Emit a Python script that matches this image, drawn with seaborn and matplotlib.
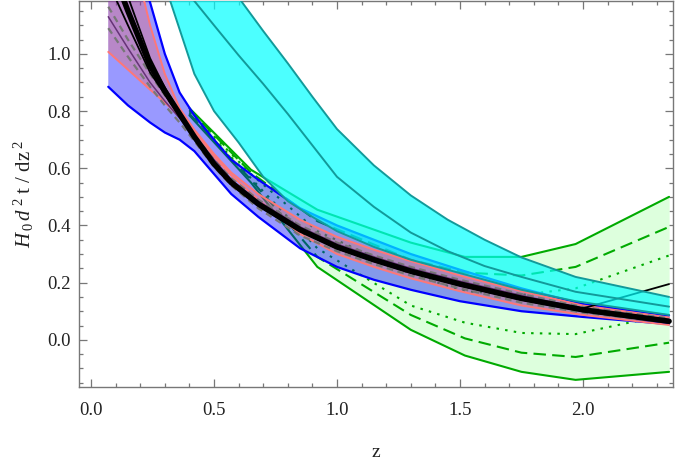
import numpy as np
import matplotlib
matplotlib.use("Agg")
import matplotlib.pyplot as plt
from matplotlib.ticker import MultipleLocator, FormatStrFormatter
import seaborn as sns

# ---------------- data ----------------
# blue / purple bands, black curves, grey dashed curves (common z grid)
z_b = [0.07, 0.15, 0.24, 0.30, 0.36, 0.42, 0.50, 0.57, 0.68, 0.85, 1.00, 1.15, 1.30, 1.50, 1.75, 2.00, 2.35]
blue_hi = [1.75, 1.45, 1.18, 1.00, 0.865, 0.785, 0.70, 0.63, 0.56, 0.46, 0.40, 0.35, 0.30, 0.245, 0.18, 0.125, 0.085]
blue_lo = [0.885, 0.82, 0.76, 0.725, 0.70, 0.66, 0.58, 0.51, 0.43, 0.32, 0.255, 0.21, 0.175, 0.135, 0.10, 0.08, 0.055]
pur_hi = [1.75, 1.42, 1.10, 0.93, 0.81, 0.735, 0.65, 0.585, 0.51, 0.42, 0.36, 0.315, 0.275, 0.225, 0.17, 0.12, 0.078]
pur_lo = [1.007, 0.945, 0.875, 0.83, 0.78, 0.73, 0.64, 0.575, 0.49, 0.37, 0.30, 0.255, 0.215, 0.17, 0.12, 0.087, 0.052]
black_mid = [1.33, 1.15, 0.96, 0.87, 0.79, 0.71, 0.615, 0.55, 0.475, 0.385, 0.325, 0.28, 0.24, 0.195, 0.145, 0.105, 0.065]
black_hi = [1.41, 1.20, 0.985, 0.882, 0.796, 0.715, 0.62, 0.555, 0.48, 0.39, 0.33, 0.285, 0.245, 0.20, 0.15, 0.11, 0.195]
black_lo = [1.25, 1.10, 0.935, 0.858, 0.784, 0.706, 0.61, 0.545, 0.47, 0.38, 0.32, 0.275, 0.235, 0.19, 0.14, 0.10, 0.06]
grey_1 = [1.165, 1.05, 0.93, 0.855, 0.785, 0.715, 0.63, 0.565, 0.49, 0.40, 0.34, 0.295, 0.255, 0.21, 0.16, 0.115, 0.075]
grey_2 = [1.09, 0.99, 0.885, 0.82, 0.76, 0.695, 0.605, 0.54, 0.46, 0.365, 0.31, 0.265, 0.225, 0.18, 0.13, 0.095, 0.06]
plum = [1.13, 1.02, 0.90, 0.835, 0.775, 0.715, 0.63, 0.56, 0.485, 0.395, 0.335, 0.29, 0.25, 0.205, 0.155, 0.11, 0.07]

# cyan band
z_c = [0.32, 0.42, 0.50, 0.60, 0.70, 0.80, 0.90, 1.00, 1.15, 1.30, 1.45, 1.60, 1.75, 1.97, 2.35]
cyan_hi = [1.55, 1.42, 1.31, 1.197, 1.08, 0.967, 0.85, 0.737, 0.61, 0.505, 0.42, 0.35, 0.288, 0.22, 0.15]
cyan_mid = [1.29, 1.185, 1.10, 0.995, 0.895, 0.79, 0.68, 0.57, 0.465, 0.375, 0.31, 0.258, 0.22, 0.168, 0.116]
cyan_lo = [1.19, 0.93, 0.80, 0.69, 0.57, 0.485, 0.43, 0.38, 0.325, 0.28, 0.245, 0.21, 0.175, 0.135, 0.087]

# green band (solid = 3, dashed = 2, dotted = 1)
z_g = [0.40, 0.65, 0.92, 1.30, 1.52, 1.75, 1.97, 2.35]
g3_hi = [0.81, 0.595, 0.455, 0.34, 0.29, 0.29, 0.335, 0.50]
g2_hi = [0.805, 0.585, 0.415, 0.28, 0.235, 0.225, 0.255, 0.395]
g1_hi = [0.80, 0.58, 0.38, 0.23, 0.17, 0.157, 0.18, 0.295]
g1_lo = [0.795, 0.565, 0.32, 0.12, 0.06, 0.024, 0.02, 0.09]
g2_lo = [0.79, 0.56, 0.29, 0.087, 0.005, -0.045, -0.06, -0.01]
g3_lo = [0.785, 0.55, 0.255, 0.035, -0.055, -0.112, -0.14, -0.112]

x_ticks = [0.0, 0.5, 1.0, 1.5, 2.0]
y_ticks = [0.0, 0.2, 0.4, 0.6, 0.8, 1.0]

# ---------------- style ----------------
sns.set_theme(style="ticks")
plt.rcParams["font.family"] = ["Liberation Serif", "DejaVu Serif"]
plt.rcParams["mathtext.fontset"] = "custom"
plt.rcParams["mathtext.rm"] = "Liberation Serif"
plt.rcParams["mathtext.it"] = "Liberation Serif:italic"

fig = plt.figure(figsize=(6.81, 4.63), dpi=100)
ax = fig.add_axes([79 / 681, 76 / 463, 594 / 681, 386 / 463])


def line(x, y, **kw):
    sns.lineplot(x=x, y=y, ax=ax, sort=False, estimator=None, legend=False, **kw)


green = "#00aa00"
# green band
ax.fill_between(z_g, g3_lo, g3_hi, color="#ddffdd", lw=0, zorder=1)
for hi, lo, ls in [(g3_hi, g3_lo, "-"), (g2_hi, g2_lo, (0, (6, 3))), (g1_hi, g1_lo, (0, (1.2, 3)))]:
    line(z_g, hi, color=green, lw=1.5, linestyle=ls, zorder=2)
    line(z_g, lo, color=green, lw=1.5, linestyle=ls, zorder=2)

# blue band and purple band
ax.fill_between(z_b, blue_lo, blue_hi, color="#0000ff", alpha=0.4, lw=0, zorder=3)
ax.fill_between(z_b, pur_lo, pur_hi, color="#f46662", alpha=0.35, lw=0, zorder=4)
line(z_b, blue_hi, color="#0000ff", lw=1.6, zorder=5)
line(z_b, blue_lo, color="#0000ff", lw=1.6, zorder=5)
line(z_b, pur_hi, color="#ff7777", lw=1.4, zorder=5)
line(z_b, pur_lo, color="#ff7777", lw=1.4, zorder=5)
line(z_b, grey_1, color="#777777", lw=1.6, linestyle=(0, (3, 2)), zorder=6)
line(z_b, grey_2, color="#777777", lw=1.6, linestyle=(0, (3, 2)), zorder=6)
line(z_b, plum, color="#663377", lw=1.1, zorder=6)
line(z_b, black_hi, color="black", lw=1.3, zorder=6)
line(z_b, black_lo, color="black", lw=1.3, zorder=6)

# cyan band
ax.fill_between(z_c, cyan_lo, cyan_hi, color="#00ffff", alpha=0.7, lw=0, zorder=7)
line(z_c, cyan_hi, color="#129a9a", lw=1.4, zorder=8)
line(z_c, cyan_mid, color="#129a9a", lw=1.4, zorder=8)
line(z_c, cyan_lo, color="#129a9a", lw=1.4, zorder=8)

# thick black curve
line(z_b, black_mid, color="black", lw=4.0, zorder=9)

# ---------------- axes ----------------
ax.set_xlim(-0.049, 2.366)
ax.set_ylim(-0.165, 1.185)
ax.set_xticks(x_ticks)
ax.set_yticks(y_ticks)
ax.xaxis.set_major_formatter(FormatStrFormatter("%.1f"))
ax.yaxis.set_major_formatter(FormatStrFormatter("%.1f"))
ax.xaxis.set_minor_locator(MultipleLocator(0.1))
ax.yaxis.set_minor_locator(MultipleLocator(0.05))
ax.tick_params(which="both", direction="in", top=True, right=True, color="#777777", width=0.9)
ax.tick_params(which="major", length=5.5)
ax.tick_params(which="minor", length=3)
ax.tick_params(axis="x", which="major", pad=11, labelsize=13.5, labelcolor="#222222")
ax.tick_params(axis="y", which="major", pad=6, labelsize=13.5, labelcolor="#222222")
for s in ax.spines.values():
    s.set_color("#777777")
    s.set_linewidth(1.0)
ax.set_facecolor("white")

ax.set_xlabel("z", fontsize=14, labelpad=18, color="#222222")
ax.set_ylabel(r"$H_{\,0}\,d^{\;2}\ \mathrm{t\ /\ dz}^{\;2}$", fontsize=15, labelpad=8, color="#222222")

fig.savefig("out.png", dpi=100)
